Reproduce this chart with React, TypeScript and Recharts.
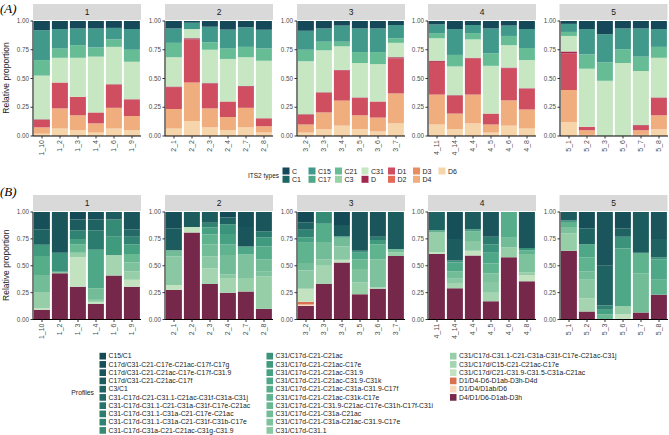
import React from 'react';
import { BarChart, Bar, XAxis, YAxis } from 'recharts';

// ITS2 type proportions (panel A), one array per facet
const typeNames = ['C', 'C1', 'C15', 'C17', 'C21', 'C3', 'C31', 'D', 'D1', 'D2', 'D3', 'D4', 'D6'];
const typeColors: Record<string, string> = {
  C: '#15495a', C1: '#1d6464', C15: '#40998a', C17: '#4fa888', C21: '#66bd95', C3: '#96d2a5',
  C31: '#c7e6c2', D: '#a3264e', D1: '#cf4e60', D2: '#e26a57', D3: '#ea8b61', D4: '#f0ad7e', D6: '#f6d5ab',
};

const facetA1 = [
  { sample: '1_10', C: 0.08, C15: 0.26, C21: 0.135, C31: 0.38, D: 0.005, D1: 0.065, D4: 0.055, D6: 0.02 },
  { sample: '1_2', C: 0.07, C15: 0.17, C21: 0.08, C31: 0.215, D1: 0.225, D4: 0.175, D6: 0.065 },
  { sample: '1_3', C: 0.065, C15: 0.145, C21: 0.11, C31: 0.34, D1: 0.16, D4: 0.13, D6: 0.05 },
  { sample: '1_4', C: 0.065, C15: 0.165, C21: 0.08, C31: 0.485, D1: 0.095, D4: 0.08, D6: 0.03 },
  { sample: '1_6', C: 0.06, C15: 0.1, C21: 0.065, C31: 0.325, D: 0.005, D1: 0.2, D4: 0.18, D6: 0.065 },
  { sample: '1_9', C: 0.07, C15: 0.18, C21: 0.105, C31: 0.325, D: 0.005, D1: 0.14, D4: 0.125, D6: 0.05 },
];
const facetA2 = [
  { sample: '2_1', C: 0.065, C15: 0.125, C21: 0.125, C31: 0.255, D: 0.005, D1: 0.19, D4: 0.17, D6: 0.065 },
  { sample: '2_2', C: 0.015, C15: 0.055, C31: 0.08, D: 0.01, D1: 0.375, D4: 0.335, D6: 0.13 },
  { sample: '2_3', C: 0.05, C15: 0.135, C21: 0.065, C31: 0.29, D: 0.005, D1: 0.215, D4: 0.165, D6: 0.075 },
  { sample: '2_4', C: 0.075, C15: 0.165, C21: 0.09, C31: 0.37, D1: 0.135, D4: 0.115, D6: 0.05 },
  { sample: '2_7', C: 0.055, C15: 0.17, C21: 0.09, C31: 0.25, D: 0.005, D1: 0.185, D4: 0.17, D6: 0.075 },
  { sample: '2_8', C: 0.075, C15: 0.165, C21: 0.105, C31: 0.5, D1: 0.07, D4: 0.055, D6: 0.03 },
];
const facetA3 = [
  { sample: '3_2', C: 0.085, C15: 0.165, C21: 0.1, C31: 0.46, D: 0.005, D1: 0.085, D4: 0.07, D6: 0.03 },
  { sample: '3_3', C: 0.065, C15: 0.115, C21: 0.075, C31: 0.365, D: 0.005, D1: 0.17, D4: 0.145, D6: 0.06 },
  { sample: '3_4', C: 0.04, C15: 0.14, C21: 0.04, C31: 0.205, D: 0.005, D1: 0.26, D2: 0.005, D4: 0.215, D6: 0.09 },
  { sample: '3_5', C: 0.065, C15: 0.205, C21: 0.095, C31: 0.3, D: 0.005, D1: 0.15, D4: 0.12, D6: 0.06 },
  { sample: '3_6', C: 0.065, C15: 0.205, C21: 0.105, C31: 0.325, D1: 0.14, D4: 0.12, D6: 0.04 },
  { sample: '3_7', C: 0.035, C15: 0.115, C21: 0.04, C31: 0.125, D: 0.01, D1: 0.305, D4: 0.26, D6: 0.11 },
];
const facetA4 = [
  { sample: '4_11', C: 0.03, C15: 0.075, C21: 0.045, C31: 0.195, D: 0.01, D1: 0.285, D4: 0.26, D6: 0.1 },
  { sample: '4_14', C: 0.07, C15: 0.225, C21: 0.1, C31: 0.25, D: 0.005, D1: 0.155, D4: 0.135, D6: 0.06 },
  { sample: '4_4', C: 0.035, C15: 0.07, C21: 0.055, C31: 0.16, D: 0.005, D1: 0.315, D4: 0.25, D6: 0.11 },
  { sample: '4_5', C: 0.065, C15: 0.215, C21: 0.11, C31: 0.415, D1: 0.095, D4: 0.07, D6: 0.03 },
  { sample: '4_6', C: 0.04, C15: 0.09, C21: 0.08, C31: 0.195, D: 0.005, D1: 0.28, D4: 0.22, D6: 0.09 },
  { sample: '4_8', C: 0.07, C15: 0.165, C21: 0.105, C31: 0.245, D: 0.005, D1: 0.18, D4: 0.165, D6: 0.065 },
];
const facetA5 = [
  { sample: '5_1', C: 0.025, C15: 0.07, C21: 0.035, C31: 0.135, D: 0.015, D1: 0.32, D4: 0.28, D6: 0.12 },
  { sample: '5_2', C: 0.07, C15: 0.22, C21: 0.125, C31: 0.505, D1: 0.03, D4: 0.04, D6: 0.01 },
  { sample: '5_3', C: 0.115, C15: 0.245, C21: 0.16, C31: 0.48 },
  { sample: '5_6', C: 0.065, C15: 0.18, C21: 0.12, C31: 0.635 },
  { sample: '5_7', C: 0.065, C15: 0.245, C21: 0.125, C31: 0.47, D: 0.005, D1: 0.04, D4: 0.04, D6: 0.01 },
  { sample: '5_8', C: 0.07, C15: 0.155, C21: 0.095, C31: 0.345, D: 0.005, D1: 0.15, D4: 0.12, D6: 0.06 },
];

// Profiles (panel B)
const profileNames = [
  'C15/C1',
  'C17d/C31-C21-C17e-C21ac-C17f-C17g',
  'C17d/C31-C21-C21ac-C17e-C17f-C31.9',
  'C17d/C31-C21-C21ac-C17f',
  'C3/C1',
  'C31-C17d-C21-C31.1-C21ac-C31f-C31a-C31j',
  'C31-C17d-C31.1-C21-C31a-C31f-C17e-C21ac',
  'C31-C17d-C31.1-C31a-C21-C17e-C21ac',
  'C31-C17d-C31.1-C31a-C21-C31f-C31b-C17e',
  'C31-C17d-C31a-C21-C21ac-C31g-C31.9',
  'C31/C17d-C21-C21ac',
  'C31/C17d-C21-C21ac-C17e',
  'C31/C17d-C21-C21ac-C31.9',
  'C31/C17d-C21-C21ac-C31.9-C31k',
  'C31/C17d-C21-C21ac-C31a-C31.9-C17f',
  'C31/C17d-C21-C21ac-C31k-C17e',
  'C31/C17d-C21-C31.9-C21ac-C17e-C31h-C17f-C31i',
  'C31/C17d-C21-C31a-C21ac',
  'C31/C17d-C21-C31a-C21ac-C31.9-C17e',
  'C31/C17d-C31.1',
  'C31/C17d-C31.1-C21-C31a-C31f-C17e-C21ac-C31j',
  'C31/C17d/C15-C21-C21ac-C17e',
  'C31/C17d/C21-C31.9-C31.5-C31a-C21ac',
  'D1/D4-D6-D1ab-D3h-D4d',
  'D1/D4/D1ab/D6',
  'D4/D1/D6-D1ab-D3h',
];
const profileColors = [
  '#134a55', '#164f58', '#19555b', '#1c5b5e', '#1f6262', '#236a66', '#27726a', '#2b7b6e', '#308372',
  '#358b76', '#3a937a', '#409a7e', '#46a082', '#4ea786', '#56ad8a', '#5fb38e', '#68b892', '#72bd97',
  '#7dc29c', '#89c8a2', '#96cea8', '#a4d4b0', '#c3e3c0', '#d9704f', '#f8d7bd', '#76284a',
];

// profile number (1-based) -> proportion
const facetB1 = [
  { sample: '1_10', p: { 26: 0.09, 23: 0.015, 21: 0.15, 18: 0.16, 15: 0.175, 12: 0.105, 5: 0.145, 2: 0.16 } },
  { sample: '1_2', p: { 26: 0.43, 20: 0.015, 11: 0.175, 3: 0.38 } },
  { sample: '1_3', p: { 26: 0.305, 23: 0.275, 21: 0.04, 17: 0.08, 13: 0.05, 9: 0.08, 4: 0.1, 1: 0.07 } },
  { sample: '1_4', p: { 26: 0.145, 23: 0.02, 20: 0.025, 18: 0.1, 14: 0.36, 8: 0.18, 5: 0.1, 2: 0.07 } },
  { sample: '1_6', p: { 26: 0.41, 22: 0.19, 12: 0.17, 10: 0.16, 4: 0.07 } },
  { sample: '1_9', p: { 26: 0.305, 23: 0.065, 21: 0.08, 19: 0.08, 17: 0.08, 13: 0.09, 9: 0.07, 6: 0.07, 3: 0.16 } },
];
const facetB2 = [
  { sample: '2_1', p: { 26: 0.275, 23: 0.045, 20: 0.265, 18: 0.06, 4: 0.205, 2: 0.15 } },
  { sample: '2_2', p: { 26: 0.81, 23: 0.05, 4: 0.14 } },
  { sample: '2_3', p: { 26: 0.33, 22: 0.145, 20: 0.11, 18: 0.115, 16: 0.09, 13: 0.065, 9: 0.045, 4: 0.1 } },
  { sample: '2_4', p: { 26: 0.25, 22: 0.135, 20: 0.035, 18: 0.18, 16: 0.1, 13: 0.095, 11: 0.09, 5: 0.065, 1: 0.05 } },
  { sample: '2_7', p: { 26: 0.26, 21: 0.125, 19: 0.22, 14: 0.075, 3: 0.18, 2: 0.14 } },
  { sample: '2_8', p: { 26: 0.1, 21: 0.3, 19: 0.045, 18: 0.115, 15: 0.12, 12: 0.085, 8: 0.055, 3: 0.18 } },
];
const facetB3 = [
  { sample: '3_2', p: { 26: 0.125, 25: 0.015, 24: 0.025, 23: 0.12, 20: 0.17, 18: 0.07, 16: 0.19, 13: 0.05, 9: 0.07, 5: 0.07, 1: 0.095 } },
  { sample: '3_3', p: { 26: 0.33, 22: 0.17, 20: 0.06, 18: 0.16, 15: 0.17, 10: 0.11 } },
  { sample: '3_4', p: { 26: 0.53, 23: 0.025, 20: 0.125, 18: 0.08, 13: 0.015, 4: 0.105, 1: 0.12 } },
  { sample: '3_5', p: { 26: 0.235, 21: 0.11, 19: 0.125, 17: 0.09, 14: 0.06, 11: 0.02, 3: 0.36 } },
  { sample: '3_6', p: { 26: 0.285, 22: 0.015, 19: 0.26, 16: 0.14, 12: 0.04, 8: 0.03, 3: 0.23 } },
  { sample: '3_7', p: { 26: 0.59, 21: 0.035, 18: 0.03, 4: 0.345 } },
];
const facetB4 = [
  { sample: '4_11', p: { 26: 0.61, 23: 0.015, 21: 0.185, 16: 0.02, 5: 0.17 } },
  { sample: '4_14', p: { 26: 0.29, 22: 0.05, 20: 0.04, 18: 0.07, 14: 0.08, 11: 0.02, 4: 0.2, 2: 0.25 } },
  { sample: '4_4', p: { 26: 0.595, 23: 0.045, 20: 0.09, 18: 0.09, 13: 0.02, 4: 0.16 } },
  { sample: '4_5', p: { 26: 0.17, 22: 0.08, 20: 0.1, 19: 0.08, 16: 0.09, 14: 0.1, 11: 0.08, 8: 0.07, 3: 0.23 } },
  { sample: '4_6', p: { 26: 0.58, 21: 0.09, 18: 0.09, 15: 0.24 } },
  { sample: '4_8', p: { 26: 0.355, 23: 0.06, 21: 0.025, 19: 0.17, 16: 0.035, 11: 0.02, 3: 0.335 } },
];
const facetB5 = [
  { sample: '5_1', p: { 26: 0.64, 21: 0.16, 19: 0.06, 16: 0.04, 12: 0.02, 4: 0.08 } },
  { sample: '5_2', p: { 26: 0.075, 22: 0.12, 20: 0.175, 18: 0.08, 16: 0.13, 14: 0.12, 5: 0.15, 2: 0.15 } },
  { sample: '5_3', p: { 17: 0.05, 13: 0.04, 9: 0.04, 5: 0.37, 3: 0.5 } },
  { sample: '5_6', p: { 23: 0.05, 21: 0.075, 14: 0.535, 11: 0.11, 5: 0.08, 2: 0.15 } },
  { sample: '5_7', p: { 26: 0.065, 18: 0.365, 16: 0.19, 4: 0.38 } },
  { sample: '5_8', p: { 26: 0.23, 16: 0.14, 14: 0.19, 11: 0.02, 5: 0.17, 3: 0.25 } },
];

const facetLabels = ['1', '2', '3', '4', '5'];

const FONT = "'Liberation Sans', Arial, sans-serif";
const facetLeft = [33, 165, 297, 428, 559.5];
const FW = 108;
const YW = 30;
const MT = 6;
const MR = 4;
const XH = 26;

const A_STRIP = 4;
const A_TOP = 20.5;
const A_H = 115;
const B_STRIP = 195;
const B_TOP = 211.5;
const B_H = 107.5;

const typeKeys = typeNames;
const profileKeys = profileNames.map((_, i) => `P${i + 1}`);
const profileColorMap: Record<string, string> = {};
profileKeys.forEach((k, i) => (profileColorMap[k] = profileColors[i]));

const fillA = (rows: any[]) =>
  rows.map(r => {
    const o: any = { sample: r.sample };
    typeKeys.forEach(k => (o[k] = r[k] ?? 0));
    return o;
  });

const fillB = (rows: any[]) =>
  rows.map(r => {
    const o: any = { sample: r.sample };
    profileKeys.forEach((k, i) => (o[k] = r.p[i + 1] ?? 0));
    return o;
  });

const dataA = [facetA1, facetA2, facetA3, facetA4, facetA5].map(fillA);
const dataB = [facetB1, facetB2, facetB3, facetB4, facetB5].map(fillB);

const SampleTick = ({ x, y, payload }: any) => (
  <g transform={`translate(${x},${y})`}>
    <text
      x={0}
      y={0}
      dy="0.35em"
      transform="rotate(-90)"
      textAnchor="end"
      fontSize={7}
      fill="#4d4d4d"
      fontFamily={FONT}
    >
      {payload.value}
    </text>
  </g>
);

const Facet = ({ rows, keys, colors, left, top, h }: any) => (
  <div style={{ position: 'absolute', left: left - YW, top: top - MT }}>
    <BarChart
      width={YW + FW + MR}
      height={MT + h + XH}
      data={rows}
      margin={{ top: MT, right: MR, left: 0, bottom: 0 }}
      barCategoryGap="5%"
    >
      <XAxis
        dataKey="sample"
        height={XH}
        interval={0}
        tick={<SampleTick />}
        tickSize={2.5}
        tickMargin={1.5}
        tickLine={{ stroke: '#333' }}
        axisLine={{ stroke: '#000', strokeWidth: 1 }}
      />
      <YAxis
        width={YW}
        domain={[0, 1]}
        allowDataOverflow
        ticks={[0, 0.25, 0.5, 0.75, 1]}
        tickFormatter={(v: number) => v.toFixed(2)}
        tickSize={2.5}
        tickMargin={1.5}
        tick={{ fontSize: 6.3, fill: '#4d4d4d', fontFamily: FONT }}
        tickLine={{ stroke: '#333' }}
        axisLine={{ stroke: '#000', strokeWidth: 1 }}
      />
      {keys
        .slice()
        .reverse()
        .map((k: string) => (
          <Bar key={k} dataKey={k} stackId="s" fill={colors[k]} isAnimationActive={false} />
        ))}
    </BarChart>
  </div>
);

const legendAX = [282.5, 308.5, 335, 361.5, 388, 413, 438.5];
const legendBX = [99.5, 266.5, 450];

export default function App() {
  return (
    <div style={{ position: 'absolute', left: 0, top: 0, width: 669, height: 435, background: '#fff', fontFamily: FONT }}>
      {dataA.map((rows, i) => (
        <Facet key={`a${i}`} rows={rows} keys={typeKeys} colors={typeColors} left={facetLeft[i]} top={A_TOP} h={A_H} />
      ))}
      {dataB.map((rows, i) => (
        <Facet key={`b${i}`} rows={rows} keys={profileKeys} colors={profileColorMap} left={facetLeft[i]} top={B_TOP} h={B_H} />
      ))}
      <svg width={669} height={435} style={{ position: 'absolute', left: 0, top: 0, pointerEvents: 'none' }}>
        <text x={0} y={13} fontSize={13} fontStyle="italic" fontFamily="'Liberation Serif', serif">(A)</text>
        <text x={0} y={196} fontSize={13} fontStyle="italic" fontFamily="'Liberation Serif', serif">(B)</text>
        <text transform={`translate(9,${A_TOP + A_H / 2}) rotate(-90)`} textAnchor="middle" fontSize={8.5} fill="#1a1a1a" fontFamily={FONT}>
          Relative proportion
        </text>
        <text transform={`translate(9,${B_TOP + B_H / 2}) rotate(-90)`} textAnchor="middle" fontSize={8.5} fill="#1a1a1a" fontFamily={FONT}>
          Relative proportion
        </text>
        {facetLabels.map((lab, i) => (
          <g key={`s${i}`}>
            <rect x={facetLeft[i]} y={A_STRIP} width={FW} height={A_TOP - A_STRIP - 0.5} fill="#d9d9d9" />
            <text x={facetLeft[i] + FW / 2} y={(A_STRIP + A_TOP) / 2 + 3} textAnchor="middle" fontSize={8.5} fill="#1a1a1a" fontFamily={FONT}>
              {lab}
            </text>
            <rect x={facetLeft[i]} y={B_STRIP} width={FW} height={B_TOP - B_STRIP - 0.5} fill="#d9d9d9" />
            <text x={facetLeft[i] + FW / 2} y={(B_STRIP + B_TOP) / 2 + 3} textAnchor="middle" fontSize={8.5} fill="#1a1a1a" fontFamily={FONT}>
              {lab}
            </text>
          </g>
        ))}
        <text x={279} y={177.5} textAnchor="end" fontSize={6.5} fill="#1a1a1a" fontFamily={FONT}>ITS2 types</text>
        {typeNames.map((t, i) => {
          const col = Math.floor(i / 2);
          const row = i % 2;
          const x = legendAX[col];
          const y = 167.5 + row * 8.3;
          return (
            <g key={t}>
              <rect x={x} y={y} width={7} height={7} fill={typeColors[t]} />
              <text x={x + 9.5} y={y + 6} fontSize={7} fill="#1a1a1a" fontFamily={FONT}>{t}</text>
            </g>
          );
        })}
        <text x={94} y={395} textAnchor="end" fontSize={6.8} fill="#1a1a1a" fontFamily={FONT}>Profiles</text>
        {profileNames.map((p, i) => {
          const col = i < 10 ? 0 : i < 20 ? 1 : 2;
          const row = i < 10 ? i : i < 20 ? i - 10 : i - 20;
          const x = legendBX[col];
          const y = 352.8 + row * 8.25;
          return (
            <g key={p}>
              <rect x={x} y={y} width={6.5} height={6.7} fill={profileColors[i]} />
              <text x={x + 9} y={y + 5.6} fontSize={6.8} fill="#1a1a1a" fontFamily={FONT}>{p}</text>
            </g>
          );
        })}
      </svg>
    </div>
  );
}
